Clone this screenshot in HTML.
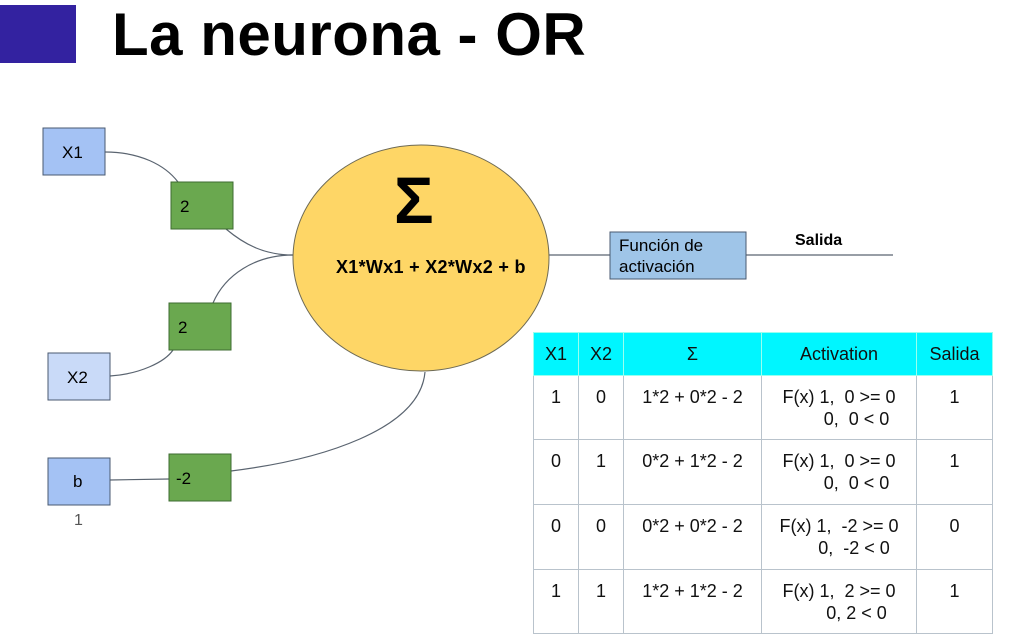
<!DOCTYPE html>
<html><head><meta charset="utf-8"><style>
body{margin:0;width:1012px;height:643px;background:#fff;position:relative;overflow:hidden;font-family:"Liberation Sans",sans-serif}
.t{position:absolute;font-family:"Liberation Sans",sans-serif}
table{position:absolute;left:533px;top:332px;border-collapse:collapse;font-size:18px;color:#111}
td{border:1px solid #b9c3cc;text-align:center;vertical-align:top;padding:0;line-height:22px}
tr.h td{background:#00f6ff;vertical-align:middle;border-color:#9fe}
</style></head><body>
<div style="position:absolute;left:0;top:5px;width:76px;height:58px;background:#3322a0"></div>
<div class="t" style="left:112px;top:0px;font-size:60px;font-weight:bold;color:#000;letter-spacing:0.5px">La neurona - OR</div>
<svg width="1012" height="643" style="position:absolute;left:0;top:0">
<g fill="none" stroke="#5a6470" stroke-width="1.2">
<path d="M105,152 C140,152 165,165 178,182"/>
<path d="M226,229 C245,245 265,255 293,255"/>
<path d="M293,255 C255,255 225,275 213,303"/>
<path d="M110,376 C140,374 165,362 173,350"/>
<path d="M110,480 L169,479"/>
<path d="M231,471 C320,460 420,430 425,372"/>
<path d="M549,255 L610,255 M746,255 L893,255"/>
</g>
<ellipse cx="421" cy="258" rx="128" ry="113" fill="#fed666" stroke="#6d6a55" stroke-width="1"/>
<g stroke="#4a5a70" stroke-width="1">
<rect x="43" y="128" width="62" height="47" fill="#a4c2f4"/>
<rect x="48" y="353" width="62" height="47" fill="#c9daf8"/>
<rect x="48" y="458" width="62" height="47" fill="#a4c2f4"/>
<rect x="610" y="232" width="136" height="47" fill="#9fc5e8"/>
</g>
<g stroke="#3d6b30" stroke-width="1" fill="#6aa84f">
<rect x="171" y="182" width="62" height="47"/>
<rect x="169" y="303" width="62" height="47"/>
<rect x="169" y="454" width="62" height="47"/>
</g>
</svg>
<div class="t" style="left:62px;top:143px;font-size:17px">X1</div>
<div class="t" style="left:67px;top:368px;font-size:17px">X2</div>
<div class="t" style="left:73px;top:472px;font-size:17px">b</div>
<div class="t" style="left:74px;top:512px;font-size:16px;color:#555">1</div>
<div class="t" style="left:180px;top:197px;font-size:17px">2</div>
<div class="t" style="left:178px;top:318px;font-size:17px">2</div>
<div class="t" style="left:176px;top:469px;font-size:17px">-2</div>
<div class="t" style="left:394px;top:168px;font-size:66px;font-weight:bold;line-height:64px">Σ</div>
<div class="t" style="left:336px;top:257px;font-size:18px;font-weight:bold;letter-spacing:0.3px">X1*Wx1 + X2*Wx2 + b</div>
<div class="t" style="left:619px;top:235px;font-size:17px;line-height:21px">Función de<br>activación</div>
<div class="t" style="left:795px;top:232px;font-size:16px;font-weight:bold">Salida</div>
<table>
<tr class="h" style="height:43px"><td style="width:44px">X1</td><td style="width:44px">X2</td><td style="width:137px">Σ</td><td style="width:154px">Activation</td><td style="width:75px">Salida</td></tr>
<tr style="height:64px"><td style="padding-top:10px">1</td><td style="padding-top:10px">0</td><td style="padding-top:10px">1*2 + 0*2 - 2</td><td style="padding-top:10px">F(x) 1,&nbsp; 0 &gt;= 0<br>&nbsp;&nbsp;&nbsp;&nbsp;&nbsp;&nbsp;&nbsp;0,&nbsp; 0 &lt; 0</td><td style="padding-top:10px">1</td></tr>
<tr style="height:65px"><td style="padding-top:10px">0</td><td style="padding-top:10px">1</td><td style="padding-top:10px">0*2 + 1*2 - 2</td><td style="padding-top:10px">F(x) 1,&nbsp; 0 &gt;= 0<br>&nbsp;&nbsp;&nbsp;&nbsp;&nbsp;&nbsp;&nbsp;0,&nbsp; 0 &lt; 0</td><td style="padding-top:10px">1</td></tr>
<tr style="height:65px"><td style="padding-top:10px">0</td><td style="padding-top:10px">0</td><td style="padding-top:10px">0*2 + 0*2 - 2</td><td style="padding-top:10px">F(x) 1,&nbsp; -2 &gt;= 0<br>&nbsp;&nbsp;&nbsp;&nbsp;&nbsp;&nbsp;0,&nbsp; -2 &lt; 0</td><td style="padding-top:10px">0</td></tr>
<tr style="height:64px"><td style="padding-top:10px">1</td><td style="padding-top:10px">1</td><td style="padding-top:10px">1*2 + 1*2 - 2</td><td style="padding-top:10px">F(x) 1,&nbsp; 2 &gt;= 0<br>&nbsp;&nbsp;&nbsp;&nbsp;&nbsp;&nbsp;&nbsp;0, 2 &lt; 0</td><td style="padding-top:10px">1</td></tr>
</table>
</body></html>
